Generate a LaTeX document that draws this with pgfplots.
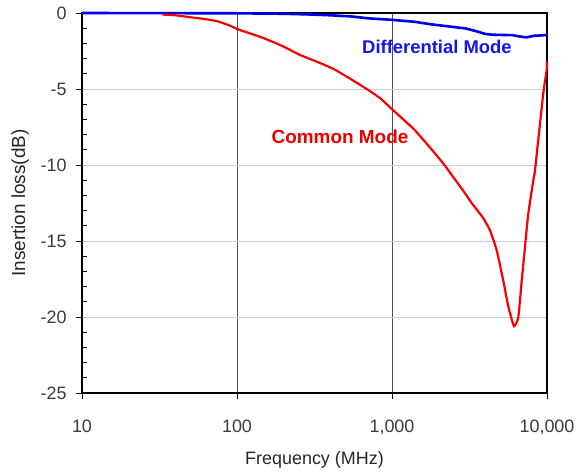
\documentclass[border=0pt]{standalone}
\usepackage{pgfplots}
\pgfplotsset{compat=1.18}
\usepackage{fontspec}
\setmainfont{Liberation Sans}
\definecolor{gridl}{RGB}{205,205,205}
\definecolor{gridd}{RGB}{80,80,80}
\definecolor{ticklab}{RGB}{60,60,60}
\definecolor{myblue}{RGB}{0,0,240}
\definecolor{myred}{RGB}{245,0,0}
\definecolor{txtblue}{RGB}{20,20,235}
\definecolor{txtred}{RGB}{230,0,0}
\begin{document}
\begin{tikzpicture}
\begin{axis}[
  scale only axis, width=465bp, height=380bp,
  xmode=log, log basis x=10,
  xmin=10, xmax=10000, ymin=-25, ymax=0,
  xtick={10,100,1000,10000}, xticklabels={10,100,{1,000},{10,000}},
  ytick={-25,-20,-15,-10,-5,0}, minor y tick num=4,
  yticklabels={-25,-20,-15,-10,-5,0},
  xtick pos=bottom, ytick pos=left,
  xmajorgrids, xminorgrids, ymajorgrids,
  major x grid style={gridd, line width=0.8bp},
  minor x grid style={gridl, line width=0.8bp},
  major y grid style={gridl, line width=0.8bp},
  axis line style={black, line width=1.5bp},
  tick style={black, line width=0.8bp},
  tick align=outside,
  major tick length=6bp, minor tick length=-5bp,
  ticklabel style={font=\fontsize{18}{20}\selectfont, text=ticklab},
  xticklabel style={yshift=-17bp},
  yticklabel style={xshift=-6bp},
  /pgf/number format/assume math mode=true,
  xlabel={Frequency (MHz)}, ylabel={Insertion loss(dB)},
  xlabel style={at={(axis description cs:0.5,-0.176)}, anchor=center, font=\fontsize{18}{20}\selectfont, text=black!85},
  ylabel style={at={(axis description cs:-0.133,0.5)}, anchor=center, font=\fontsize{19}{21}\selectfont, text=black!85},
  clip=false,
]
\addplot[myblue, line width=2.6bp] coordinates {
(10,0) (100,-0.02) (200,-0.05) (300,-0.1) (400,-0.15) (550,-0.23) (700,-0.35)
(1000,-0.45) (1400,-0.58) (1800,-0.75) (2400,-0.9) (3000,-1.02) (3500,-1.2)
(4000,-1.38) (4500,-1.43) (6000,-1.46) (6800,-1.56) (7400,-1.6) (8200,-1.5) (10000,-1.45)
};
\addplot[myred, line width=2.2bp, smooth, tension=0.3] coordinates {
(33,-0.1) (40,-0.15) (50,-0.28) (60,-0.38) (74,-0.53) (90,-0.83) (100,-1.05)
(134,-1.49) (155,-1.73) (199,-2.2) (255,-2.76) (327,-3.2) (419,-3.68) (523,-4.25)
(687,-5.0) (837,-5.6) (1018,-6.4) (1371,-7.6) (1674,-8.6) (2143,-9.9) (2486,-10.8)
(2884,-11.7) (3266,-12.5) (3881,-13.5) (4288,-14.3) (4733,-15.6) (5222,-17.6)
(5623,-19.3) (6124,-20.6) (6531,-20.0) (6871,-17.6) (7211,-15.4) (7574,-13.2)
(8166,-11.0) (8375,-10.3) (9460,-5.3) (9950,-3.75) (10000,-3.2)
};
\node[text=txtblue, font=\bfseries\fontsize{18.5}{20}\selectfont] at (axis cs:1950,-2.24) {Differential Mode};
\node[text=txtred, font=\bfseries\fontsize{19}{21}\selectfont] at (axis cs:462,-8.16) {Common Mode};
\end{axis}
\pgfresetboundingbox
\useasboundingbox (-82bp,-82bp) rectangle (500bp,393bp);
\end{tikzpicture}
\end{document}
